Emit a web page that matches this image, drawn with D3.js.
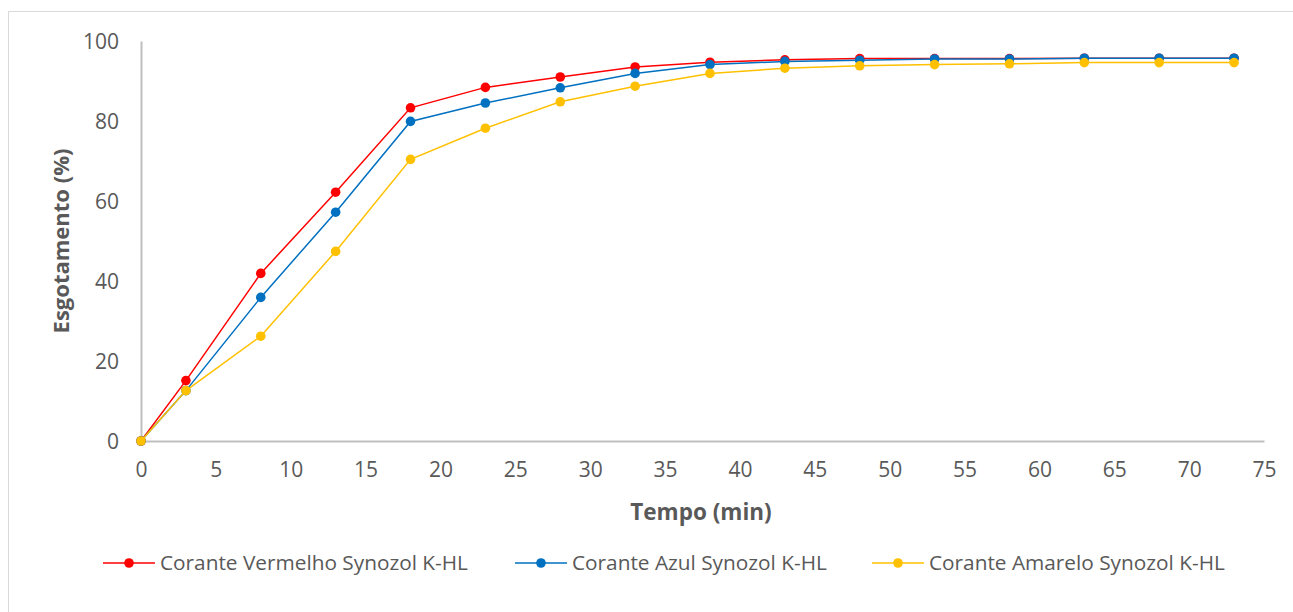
<!DOCTYPE html>
<html>
<head>
<meta charset="utf-8">
<script src="https://cdn.jsdelivr.net/npm/d3@7"></script>
<style>
  html, body { margin: 0; padding: 0; background: #fff; }
  svg { display: block; }
  text { font-family: "Open Sans", "Noto Sans", sans-serif; fill: #595959; }
</style>
</head>
<body>
<svg id="chart" width="1293" height="612"></svg>
<script>
// Time (min) of each sampling point
const tempo = [0, 3, 8, 13, 18, 23, 28, 33, 38, 43, 48, 53, 58, 63, 68, 73];

// Exhaustion (%) per dye
const vermelho = [0, 15.1, 41.9, 62.2, 83.3, 88.4, 91.0, 93.5, 94.7, 95.3, 95.6, 95.6, 95.6, 95.7, 95.7, 95.7];
const azul     = [0, 12.6, 35.9, 57.2, 79.9, 84.5, 88.3, 91.9, 94.1, 94.9, 95.2, 95.5, 95.5, 95.7, 95.7, 95.7];
const amarelo  = [0, 12.6, 26.2, 47.4, 70.4, 78.2, 84.8, 88.7, 91.9, 93.2, 93.8, 94.1, 94.3, 94.6, 94.6, 94.6];

const seriesNames = ["Corante Vermelho Synozol K-HL", "Corante Azul Synozol K-HL", "Corante Amarelo Synozol K-HL"];
const seriesColors = ["#FF0000", "#0070C0", "#FFC000"];

const xTicks = [0, 5, 10, 15, 20, 25, 30, 35, 40, 45, 50, 55, 60, 65, 70, 75];
const yTicks = [0, 20, 40, 60, 80, 100];

const svg = d3.select("#chart");

// chart frame
svg.append("rect")
  .attr("x", 8.5).attr("y", 11.5)
  .attr("width", 1300).attr("height", 620)
  .attr("fill", "none").attr("stroke", "#d9d9d9").attr("stroke-width", 1);

const x = d3.scaleLinear().domain([0, 75]).range([141, 1264]);
const y = d3.scaleLinear().domain([0, 100]).range([441, 41]);

// axes
const xAxis = svg.append("g").attr("transform", `translate(0,${y(0)})`)
  .call(d3.axisBottom(x).tickValues(xTicks).tickSize(0).tickPadding(21));
const yAxis = svg.append("g").attr("transform", `translate(${x(0)},0)`)
  .call(d3.axisLeft(y).tickValues(yTicks).tickSize(0).tickPadding(22));

[xAxis, yAxis].forEach(g => {
  g.select(".domain").attr("stroke", "#bfbfbf").attr("stroke-width", 2);
  g.selectAll("text").attr("font-size", 21).attr("fill", "#595959")
    .attr("font-family", "'Open Sans', sans-serif");
});
yAxis.selectAll("text").attr("dy", "0.35em");

// axis titles
svg.append("text")
  .attr("x", 701).attr("y", 520)
  .attr("text-anchor", "middle")
  .attr("font-size", 22.5).attr("font-weight", "bold")
  .text("Tempo (min)");

svg.append("text")
  .attr("transform", `translate(69,${(y(0) + y(100)) / 2}) rotate(-90)`)
  .attr("text-anchor", "middle")
  .attr("font-size", 22).attr("font-weight", "bold")
  .text("Esgotamento (%)");

// series
const allSeries = [vermelho, azul, amarelo];
const line = d3.line().x((d, i) => x(tempo[i])).y(d => y(d));

allSeries.forEach((vals, s) => {
  const g = svg.append("g");
  g.append("path")
    .datum(vals)
    .attr("d", line)
    .attr("fill", "none")
    .attr("stroke", seriesColors[s])
    .attr("stroke-width", 1.5);
  g.selectAll("circle")
    .data(vals)
    .join("circle")
    .attr("cx", (d, i) => x(tempo[i]))
    .attr("cy", d => y(d))
    .attr("r", 4.8)
    .attr("fill", seriesColors[s]);
});

// legend
const legendX = [103, 515, 872];
const legendY = 563;
seriesNames.forEach((name, s) => {
  const g = svg.append("g").attr("transform", `translate(${legendX[s]},${legendY})`);
  g.append("line").attr("x1", 0).attr("x2", 52).attr("y1", 0).attr("y2", 0)
    .attr("stroke", seriesColors[s]).attr("stroke-width", 1.5);
  g.append("circle").attr("cx", 26).attr("cy", 0).attr("r", 4.8).attr("fill", seriesColors[s]);
  g.append("text").attr("x", 57).attr("y", 0).attr("dy", "0.35em")
    .attr("font-size", 20.8).text(name);
});
</script>
</body>
</html>
